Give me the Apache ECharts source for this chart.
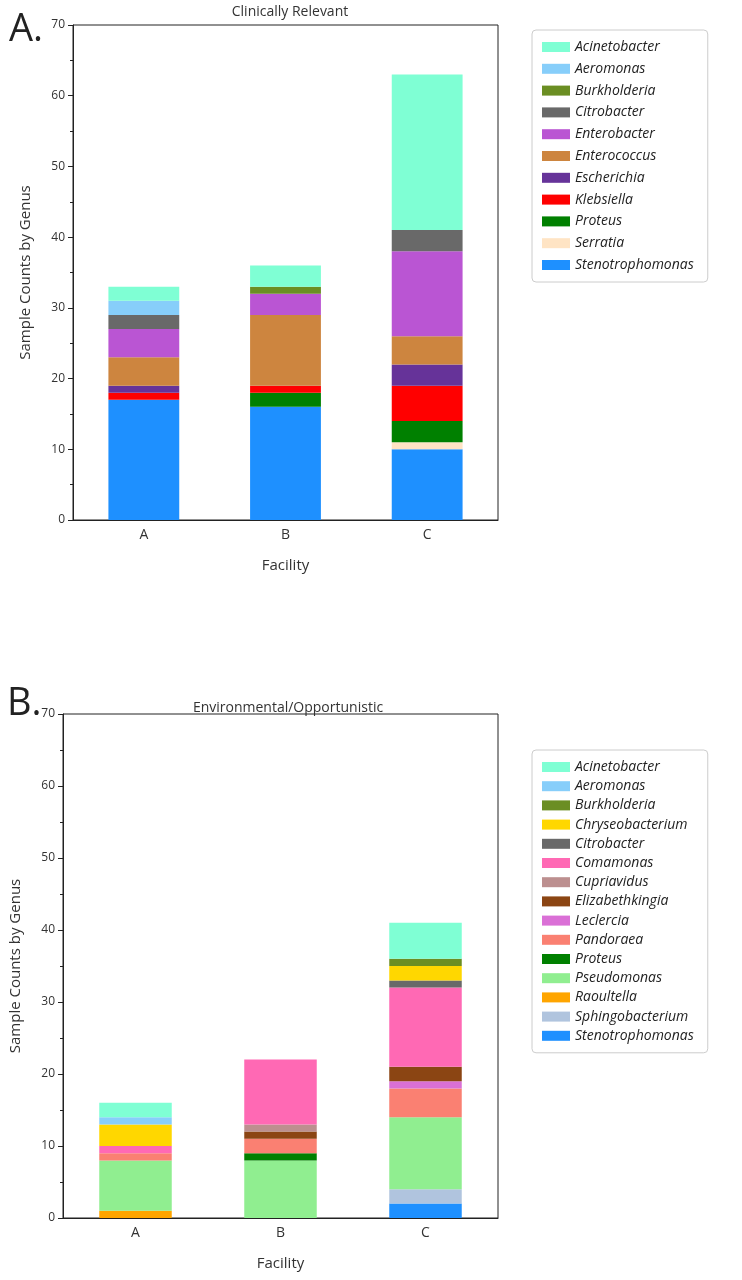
<!DOCTYPE html>
<html><head><meta charset="utf-8">
<script src="https://cdn.jsdelivr.net/npm/echarts@6/dist/echarts.min.js"></script>
<style>html,body{margin:0;padding:0;background:#fff}#c{width:742px;height:1280px}</style>
</head><body><div id="c"></div>
<script>
const facilities = ['A','B','C'];
const yTicks = [0,10,20,30,40,50,60,70];
// Panel A (legend order, top to bottom)
const genusA = ['Acinetobacter','Aeromonas','Burkholderia','Citrobacter','Enterobacter','Enterococcus','Escherichia','Klebsiella','Proteus','Serratia','Stenotrophomonas'];
const valuesA = {
  Acinetobacter:[2,3,22], Aeromonas:[2,0,0], Burkholderia:[0,1,0], Citrobacter:[2,0,3],
  Enterobacter:[4,3,12], Enterococcus:[4,10,4], Escherichia:[1,0,3], Klebsiella:[1,1,5],
  Proteus:[0,2,3], Serratia:[0,0,1], Stenotrophomonas:[17,16,10]
};
// Panel B
const genusB = ['Acinetobacter','Aeromonas','Burkholderia','Chryseobacterium','Citrobacter','Comamonas','Cupriavidus','Elizabethkingia','Leclercia','Pandoraea','Proteus','Pseudomonas','Raoultella','Sphingobacterium','Stenotrophomonas'];
const valuesB = {
  Acinetobacter:[2,0,5], Aeromonas:[1,0,0], Burkholderia:[0,0,1], Chryseobacterium:[3,0,2],
  Citrobacter:[0,0,1], Comamonas:[1,9,11], Cupriavidus:[0,1,0], Elizabethkingia:[0,1,2],
  Leclercia:[0,0,1], Pandoraea:[1,2,4], Proteus:[0,1,0], Pseudomonas:[7,8,10],
  Raoultella:[1,0,0], Sphingobacterium:[0,0,2], Stenotrophomonas:[0,0,2]
};
const colors = {
  Acinetobacter:'#7fffd4', Aeromonas:'#87cefa', Burkholderia:'#6b8e23', Citrobacter:'#696969',
  Enterobacter:'#ba55d3', Enterococcus:'#cd853f', Escherichia:'#663399', Klebsiella:'#ff0000',
  Proteus:'#008000', Serratia:'#ffe4c4', Stenotrophomonas:'#1e90ff', Chryseobacterium:'#ffd700',
  Comamonas:'#ff69b4', Cupriavidus:'#bc8f8f', Elizabethkingia:'#8b4513', Leclercia:'#da70d6',
  Pandoraea:'#fa8072', Pseudomonas:'#90ee90', Raoultella:'#ffa500', Sphingobacterium:'#b0c4de'
};
const F = 'Open Sans, DejaVu Sans, sans-serif';
function mkAxes(i){
  return {
    x:{type:'category',gridIndex:i,data:facilities,name:'Facility',nameLocation:'middle',nameGap:38,
       nameTextStyle:{fontSize:15,color:'#333',fontFamily:F},
       axisLine:{lineStyle:{color:'#222'}},axisTick:{alignWithLabel:true,lineStyle:{color:'#222'}},
       axisLabel:{fontSize:14,color:'#333',fontFamily:F,margin:8}},
    y:{type:'value',gridIndex:i,min:0,max:70,interval:10,name:'Sample Counts by Genus',nameLocation:'middle',nameGap:40,
       nameTextStyle:{fontSize:15,color:'#333',fontFamily:F},
       axisLine:{show:true,lineStyle:{color:'#222'}},axisTick:{show:true,lineStyle:{color:'#222'}},
       minorTick:{show:true,splitNumber:2,lineStyle:{color:'#222'}},
       splitLine:{show:false},axisLabel:{fontSize:12,color:'#333',fontFamily:F}}
  };
}
const a0=mkAxes(0), a1=mkAxes(1);
function mkSeries(genus, vals, i){
  return genus.slice().reverse().map(g=>({
    name:g,type:'bar',stack:'s'+i,xAxisIndex:i,yAxisIndex:i,barWidth:'50%',
    itemStyle:{color:colors[g]},data:vals[g]
  }));
}
function mkLegend(genus,top,gap){
  return {data:genus,orient:'vertical',left:532,top:top,itemWidth:28,itemHeight:10,itemGap:gap,
    icon:'rect',selectedMode:false,borderColor:'#ccc',borderWidth:1,borderRadius:4,padding:[10,14,10,10],
    textStyle:{fontStyle:'italic',fontSize:14,color:'#222',fontFamily:F}};
}
const opt = {
  animation:false,
  title:[
    {text:'Clinically Relevant',left:285,top:0,textAlign:'center',textStyle:{fontSize:14,fontWeight:'normal',color:'#333',fontFamily:F}},
    {text:'A.',left:4,top:6,textStyle:{fontSize:38,fontWeight:'normal',color:'#222',fontFamily:F}},
    {text:'Environmental/Opportunistic',left:283,top:696,textAlign:'center',textStyle:{fontSize:14,fontWeight:'normal',color:'#333',fontFamily:F}},
    {text:'B.',left:2,top:680,textStyle:{fontSize:38,fontWeight:'normal',color:'#222',fontFamily:F}}
  ],
  grid:[
    {left:73,width:425,top:25,height:495,show:true,borderColor:'#222',borderWidth:1},
    {left:63,width:435,top:714,height:504,show:true,borderColor:'#222',borderWidth:1}
  ],
  xAxis:[a0.x,a1.x], yAxis:[a0.y,a1.y],
  legend:[mkLegend(genusA,30,7.8),mkLegend(genusB,750,5.2)],
  series:[...mkSeries(genusA,valuesA,0),...mkSeries(genusB,valuesB,1)]
};
echarts.init(document.getElementById('c')).setOption(opt);
</script></body></html>
